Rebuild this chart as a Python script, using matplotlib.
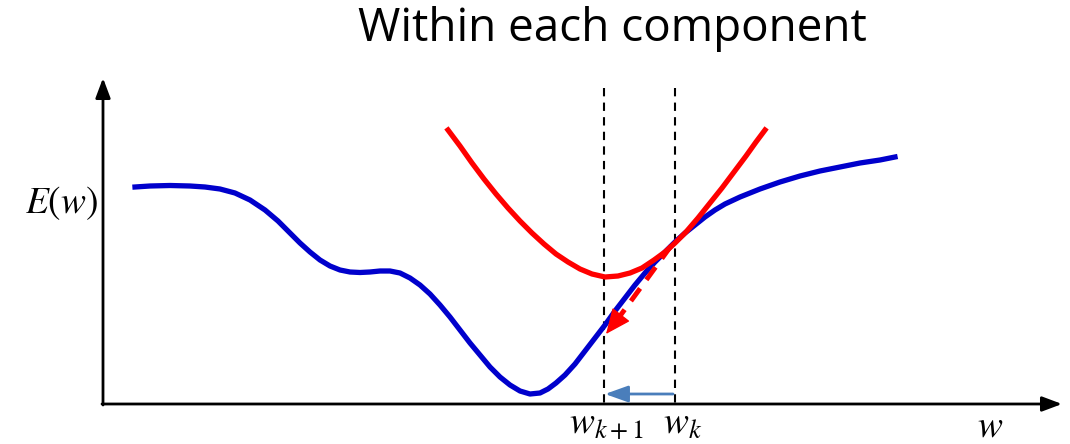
import numpy as np
import matplotlib as mpl
from matplotlib import pyplot as plt

mpl.rcParams['mathtext.fontset'] = 'stix'

# Data (picture coordinates: x to the right, y downwards)
blue_x = [135,150,170,190,205,220,235,250,265,278,290,300,310,320,330,340,350,360,370,380,390,400,410,420,430,440,450,460,470,480,490,500,510,520,530,540,548,556,565,575,585,595,605,615,625,635,645,655,665,675,685,695,705,715,725,740,760,780,800,820,840,860,880,895]
blue_y = [187,186,185.5,186,187,189,193,200,210,221,233,243,252,260,266,270,272,272.5,272,271,271,273,278,285,294,305,317,330,343,355,367,377,385,391,394,393,389,383,375,364,351,338,325,311,298,285,273,262,252,242,233,225,217,210,204,197,189,182,176,171,167,163,160,157]

red_x = [448,460,472,484,496,508,520,532,544,556,568,580,592,605,618,630,642,654,665,675,686,698,710,722,734,746,756,765]
red_y = [130,146,163,179,194,208,221,233,244,254,262,269,274,277,276,273,268,260,252,243,232,218,203,188,172,156,142,130]

w_k = 675
w_k1 = 604
tangent_start = (671, 246)
tangent_neck = (620, 316)
tangent_end = (606, 334)

title = 'Within each component'

fig = plt.figure(figsize=(10.7, 4.44), dpi=100)
ax = fig.add_axes([0, 0, 1, 1])
ax.set_xlim(0, 1070)
ax.set_ylim(444, 0)
ax.axis('off')

head = '-|>,head_length=1.2,head_width=0.45'

# axes arrows
ax.annotate('', xy=(103, 78), xytext=(103, 405),
            arrowprops=dict(arrowstyle=head, color='black', lw=2, shrinkA=0, shrinkB=0))
ax.annotate('', xy=(1062, 404), xytext=(102, 404),
            arrowprops=dict(arrowstyle=head, color='black', lw=2, shrinkA=0, shrinkB=0))

# dashed verticals
for xv in [w_k1, w_k]:
    ax.plot([xv, xv], [88, 404], color='black', lw=1.5, ls=(0, (4, 3)))

ax.plot(blue_x, blue_y, color='#0000cc', lw=3.8, solid_joinstyle='round', zorder=3)
ax.plot(red_x, red_y, color='#ff0000', lw=3.8, solid_joinstyle='round', zorder=4)

# tangent step
ax.plot([tangent_start[0], tangent_neck[0]], [tangent_start[1], tangent_neck[1]],
        color='#ff0000', lw=3.5, ls=(0, (3.2, 2.2)), zorder=5)
ax.annotate('', xy=tangent_end, xytext=tangent_neck,
            arrowprops=dict(arrowstyle='-|>,head_length=1.6,head_width=0.7', color='#ff0000', lw=1,
                            shrinkA=0, shrinkB=0), zorder=5)

# step along w
ax.annotate('', xy=(w_k1 + 1, 394), xytext=(w_k - 2, 394),
            arrowprops=dict(arrowstyle='-|>,head_length=1.4,head_width=0.5', color='#4a7ebb', lw=2, shrinkA=0, shrinkB=0), zorder=5)

ax.text(612, 29, title, fontsize=33, ha='center', va='center', family='Open Sans')
ax.text(62, 203, r'$E(w)$', fontsize=27, ha='center', va='center')
ax.text(w_k1 + 2, 424, r'$w_{k+1}$', fontsize=27, ha='center', va='center')
ax.text(w_k + 8, 424, r'$w_k$', fontsize=27, ha='center', va='center')
ax.text(990, 426, r'$w$', fontsize=27, ha='center', va='center')

fig.savefig('out.png', dpi=100)
